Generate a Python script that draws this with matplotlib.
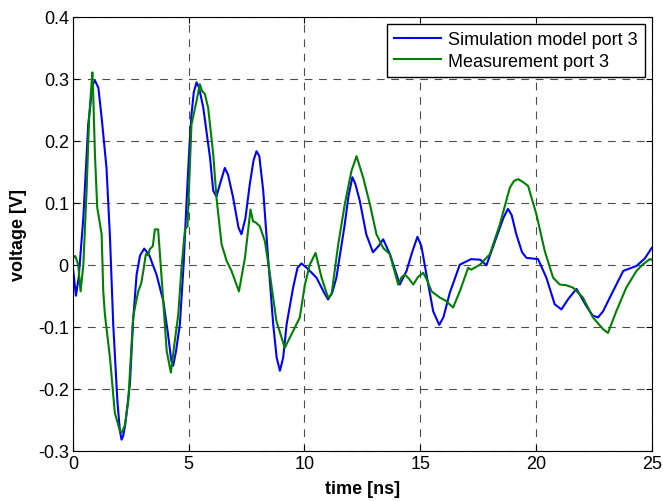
import numpy as np
import matplotlib
matplotlib.use('Agg')
import matplotlib.pyplot as plt

plt.rcParams['font.family'] = ['Liberation Sans', 'DejaVu Sans']
plt.rcParams['font.size'] = 13

# simulation model port 3 (blue)
sim_t = [0, 0.13, 0.25, 0.45, 0.66, 0.85, 0.95, 1.1, 1.24, 1.45, 1.6, 1.74, 1.92, 2.03,
         2.1, 2.17, 2.25, 2.46, 2.6, 2.75, 2.9, 3.08, 3.3, 3.61, 3.9, 4.1, 4.25, 4.33,
         4.45, 4.62, 4.78, 4.91, 5.03, 5.12, 5.22, 5.34, 5.45, 5.63, 5.92, 6.06, 6.2,
         6.35, 6.56, 6.7, 6.92, 7.15, 7.28, 7.45, 7.64, 7.8, 7.93, 8.05, 8.22, 8.43,
         8.65, 8.8, 8.94, 9.08, 9.23, 9.51, 9.7, 9.87, 10.1, 10.52, 10.85, 11.02, 11.2,
         11.38, 11.74, 11.9, 12.07, 12.2, 12.39, 12.67, 12.96, 13.2, 13.4, 13.69, 14.12,
         14.41, 14.65, 14.88, 15.05, 15.27, 15.56, 15.82, 16.0, 16.28, 16.71, 17.2,
         17.6, 17.86, 18.29, 18.6, 18.79, 18.95, 19.15, 19.4, 19.59, 20.09, 20.45,
         20.81, 21.1, 21.4, 21.75, 22.18, 22.45, 22.68, 22.9, 23.19, 23.77, 24.34,
         24.7, 25]
sim_v = [-0.005, -0.05, -0.02, 0.076, 0.226, 0.29, 0.297, 0.285, 0.237, 0.156, 0.044,
         -0.096, -0.22, -0.268, -0.282, -0.276, -0.26, -0.193, -0.09, -0.016, 0.015,
         0.026, 0.015, -0.016, -0.058, -0.11, -0.155, -0.163, -0.14, -0.096, 0.0,
         0.103, 0.19, 0.242, 0.278, 0.294, 0.285, 0.253, 0.173, 0.119, 0.11, 0.13,
         0.156, 0.145, 0.108, 0.06, 0.049, 0.075, 0.13, 0.168, 0.183, 0.175, 0.119,
         0.011, -0.096, -0.15, -0.171, -0.15, -0.096, -0.037, -0.005, 0.002, -0.005,
         -0.021, -0.045, -0.056, -0.045, -0.021, 0.065, 0.11, 0.141, 0.13, 0.103,
         0.049, 0.020, 0.03, 0.041, 0.017, -0.032, -0.010, 0.02, 0.045, 0.03, -0.016,
         -0.075, -0.097, -0.085, -0.045, 0.0, 0.009, 0.008, -0.001, 0.044, 0.076, 0.090,
         0.08, 0.049, 0.02, 0.011, 0.009, -0.021, -0.064, -0.072, -0.055, -0.039,
         -0.067, -0.082, -0.085, -0.075, -0.053, -0.010, -0.002, 0.01, 0.027]

# measurement port 3 (green)
meas_t = [0, 0.1, 0.23, 0.33, 0.45, 0.59, 0.7, 0.8, 0.84, 0.88, 0.95, 1.05, 1.17, 1.24,
          1.31, 1.38, 1.6, 1.81, 2.03, 2.12, 2.25, 2.39, 2.6, 2.7, 2.82, 2.95, 3.04,
          3.15, 3.25, 3.32, 3.45, 3.54, 3.68, 3.83, 4.05, 4.23, 4.4, 4.55, 4.69, 4.84,
          4.95, 5.12, 5.34, 5.48, 5.58, 5.7, 5.84, 6.06, 6.2, 6.42, 6.64, 6.85, 7.17,
          7.43, 7.67, 7.78, 7.9, 8.07, 8.29, 8.51, 8.79, 9.15, 9.51, 9.8, 10.02, 10.23,
          10.48, 10.74, 11.02, 11.17, 11.46, 11.74, 12.03, 12.25, 12.54, 12.83, 13.11,
          13.4, 13.69, 14.05, 14.2, 14.34, 14.5, 14.7, 14.9, 15.13, 15.3, 15.49, 15.85,
          16.1, 16.42, 16.71, 17.07, 17.2, 17.58, 18.01, 18.44, 18.87, 19.05, 19.23,
          19.45, 19.66, 20.02, 20.38, 20.74, 21.03, 21.3, 21.6, 22.03, 22.46, 22.9,
          23.11, 23.47, 23.9, 24.34, 24.6, 24.92, 25]
meas_v = [0.011, 0.014, 0.0, -0.043, 0.0, 0.119, 0.237, 0.29, 0.31, 0.27, 0.178, 0.092,
          0.065, 0.049, -0.043, -0.080, -0.15, -0.239, -0.268, -0.27, -0.258, -0.22,
          -0.085, -0.065, -0.043, -0.03, -0.010, 0.017, 0.015, 0.025, 0.03, 0.057,
          0.057, -0.021, -0.139, -0.174, -0.123, -0.080, -0.005, 0.057, 0.062, 0.226,
          0.264, 0.291, 0.28, 0.275, 0.253, 0.178, 0.108, 0.033, 0.006, -0.010, -0.043,
          0.011, 0.089, 0.070, 0.068, 0.062, 0.038, -0.016, -0.091, -0.134, -0.107,
          -0.085, -0.032, 0.0, 0.019, -0.021, -0.053, -0.048, 0.033, 0.097, 0.151,
          0.175, 0.140, 0.097, 0.049, 0.027, 0.017, -0.032, -0.02, -0.016, -0.022,
          -0.032, -0.02, -0.013, -0.025, -0.043, -0.053, -0.058, -0.069, -0.043, -0.005,
          -0.008, 0.0, 0.017, 0.065, 0.124, 0.135, 0.138, 0.133, 0.127, 0.081, 0.022,
          -0.021, -0.032, -0.033, -0.037, -0.053, -0.085, -0.104, -0.110, -0.075,
          -0.037, -0.010, 0.0, 0.009, 0.008]

fig = plt.figure(figsize=(6.63, 5.02), dpi=100)
ax = fig.add_axes([0.110, 0.100, 0.873, 0.865])

ax.plot(sim_t, sim_v, color='#0000ff', lw=1.5, label='Simulation model port 3')
ax.plot(meas_t, meas_v, color='#008000', lw=1.5, label='Measurement port 3')

ax.set_xlim(0, 25)
ax.set_ylim(-0.3, 0.4)
ax.set_xticks([0, 5, 10, 15, 20, 25])
ax.set_yticks(np.arange(-0.3, 0.41, 0.1))
ax.set_yticklabels(['-0.3', '-0.2', '-0.1', '0', '0.1', '0.2', '0.3', '0.4'])
ax.tick_params(direction='in', top=True, right=True, length=4, labelsize=13, pad=3)
ax.grid(True, color='0.3', linestyle=(0, (7, 6)), lw=0.8)

ax.set_xlabel('time [ns]', fontweight='bold', fontsize=13, labelpad=6)
ax.set_ylabel('voltage [V]', fontweight='bold', fontsize=13, labelpad=8)

ax.legend(loc='upper right', fancybox=False, edgecolor='black', framealpha=1,
          handlelength=2.6, handletextpad=0.35, borderaxespad=0.4, fontsize=13,
          labelspacing=0.25, borderpad=0.4)

fig.savefig('out.png', dpi=100)
